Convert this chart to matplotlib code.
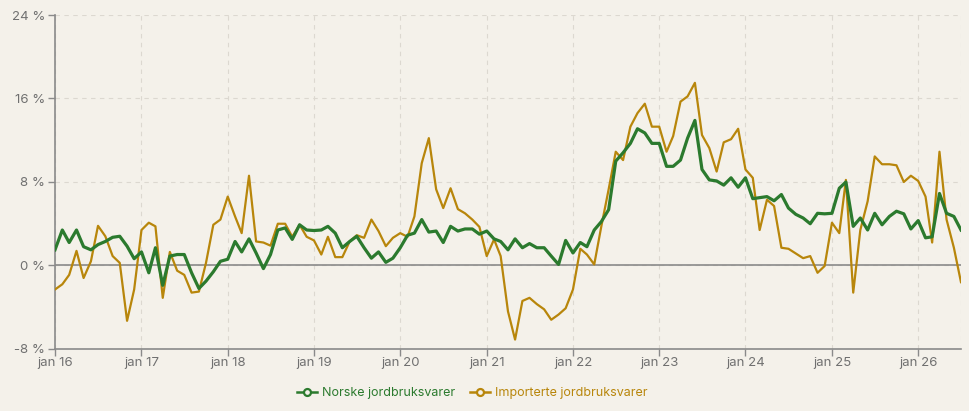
import numpy as np
import pandas as pd
import matplotlib
matplotlib.use("Agg")
import matplotlib.pyplot as plt
from matplotlib.lines import Line2D

plt.rcParams['font.family'] = ['Inter', 'DejaVu Sans']

BG = '#f4f1ea'
GREEN = '#2b7a2e'
ORANGE = '#b8860b'
TXT = '#707070'
GRID = '#dcd8d0'

# monthly, jan 2016 .. jul 2026
months = pd.date_range('2016-01-01', '2026-07-01', freq='MS')

norske = [
    1.5, 3.4, 2.2, 3.4, 1.8, 1.5, 2.0, 2.3, 2.7, 2.8, 1.85, 0.65,
    1.3, -0.7, 1.7, -1.9, 0.9, 1.05, 1.05, -0.7, -2.2, -1.5, -0.6, 0.4,
    0.6, 2.3, 1.3, 2.55, 1.2, -0.3, 1.05, 3.4, 3.6, 2.5, 3.9, 3.4,
    3.35, 3.4, 3.75, 3.1, 1.7, 2.3, 2.8, 1.7, 0.7, 1.3, 0.3, 0.7,
    1.7, 2.9, 3.1, 4.4, 3.2, 3.3, 2.2, 3.75, 3.3, 3.5, 3.5, 3.0,
    3.3, 2.55, 2.3, 1.5, 2.55, 1.7, 2.1, 1.7, 1.7, 0.9, 0.1, 2.4,
    1.2, 2.2, 1.8, 3.4, 4.2, 5.35, 10.0, 10.8, 11.7, 13.1, 12.7, 11.7,
    11.7, 9.5, 9.5, 10.1, 12.2, 13.9, 9.2, 8.2, 8.1, 7.7, 8.4, 7.5,
    8.4, 6.4, 6.5, 6.6, 6.2, 6.8, 5.5, 4.9, 4.55, 4.0, 5.0, 4.95,
    5.0, 7.4, 8.0, 3.75, 4.55, 3.4, 5.0, 3.9, 4.7, 5.2, 4.95, 3.5,
    4.3, 2.65, 2.75, 6.9, 5.0, 4.7, 3.4,
]

importerte = [
    -2.3, -1.8, -0.9, 1.4, -1.2, 0.4, 3.8, 2.8, 0.9, 0.25, -5.3, -2.3,
    3.4, 4.1, 3.75, -3.1, 1.3, -0.5, -0.9, -2.6, -2.5, 0.25, 3.9, 4.4,
    6.6, 4.7, 3.1, 8.6, 2.3, 2.2, 1.9, 4.0, 4.0, 2.75, 3.9, 2.75,
    2.4, 1.05, 2.75, 0.8, 0.8, 2.3, 2.9, 2.65, 4.4, 3.3, 1.85, 2.65,
    3.1, 2.75, 4.7, 9.8, 12.2, 7.3, 5.5, 7.4, 5.4, 5.0, 4.4, 3.7,
    0.9, 2.5, 0.9, -4.4, -7.1, -3.4, -3.1, -3.7, -4.2, -5.2, -4.7, -4.1,
    -2.3, 1.6, 1.05, 0.1, 3.75, 7.3, 10.9, 10.1, 13.3, 14.6, 15.5, 13.3,
    13.3, 10.9, 12.4, 15.7, 16.2, 17.5, 12.5, 11.25, 9.0, 11.8, 12.1, 13.1,
    9.2, 8.4, 3.4, 6.3, 5.7, 1.7, 1.6, 1.15, 0.7, 0.9, -0.7, -0.05,
    4.1, 3.1, 8.2, -2.6, 3.4, 6.15, 10.45, 9.7, 9.7, 9.6, 8.0, 8.6,
    8.1, 6.6, 2.2, 10.9, 4.4, 1.7, -1.6,
]

yticks = [-8, 0, 8, 16, 24]
years = list(range(2016, 2027))

fig = plt.figure(figsize=(9.7, 4.11), dpi=100, facecolor=BG)
ax = fig.add_axes([0.0567, 0.1509, 0.9340, 0.8126])
ax.set_facecolor(BG)

ax.plot(months, norske, color=GREEN, lw=2.3, solid_joinstyle='round', zorder=4)
ax.plot(months, importerte, color=ORANGE, lw=1.6, solid_joinstyle='round', zorder=3)

ax.set_ylim(-8, 24)
ax.set_xlim(months[0], months[-1])
ax.set_yticks(yticks)
ax.set_yticklabels([f'{v} %' for v in yticks])
xt = [pd.Timestamp(f'{y}-01-01') for y in years]
ax.set_xticks(xt)
ax.set_xticklabels([f'jan {y % 100:02d}' for y in years])

ax.grid(True, color=GRID, ls=(0, (4, 4)), lw=0.8)
ax.axvline(months[-1], color=GRID, ls=(0, (4, 4)), lw=0.8)
ax.axhline(0, color='#8a8a8a', lw=1.2, zorder=2)

for s in ['top', 'right']:
    ax.spines[s].set_visible(False)
for s in ['left', 'bottom']:
    ax.spines[s].set_color('#8a8a8a')
    ax.spines[s].set_linewidth(1.2)
ax.tick_params(colors='#8a8a8a', labelcolor=TXT, labelsize=9.5, length=5, width=1)
ax.tick_params(axis='x', pad=0.5)
ax.tick_params(axis='y', pad=2)

handles = [
    Line2D([], [], color=GREEN, lw=1.8, marker='o', ms=5, mfc=BG, mew=1.6),
    Line2D([], [], color=ORANGE, lw=1.8, marker='o', ms=5, mfc=BG, mew=1.6),
]
fig.legend(handles, ['Norske jordbruksvarer', 'Importerte jordbruksvarer'],
           loc='center', bbox_to_anchor=(0.487, 0.043), ncol=2, frameon=False,
           fontsize=9, labelcolor='linecolor', handlelength=1.6,
           handletextpad=0.4, columnspacing=1.2)

fig.savefig('out.png', dpi=100, facecolor=BG)
